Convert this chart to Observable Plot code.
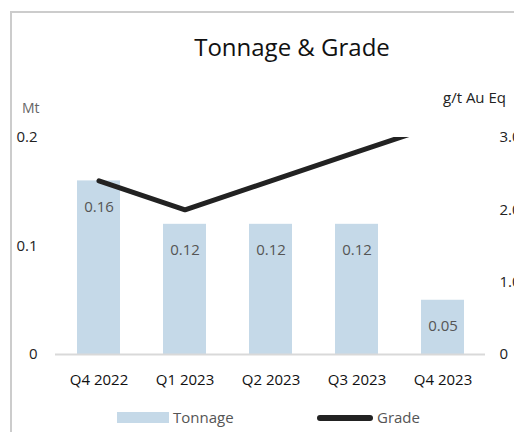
<!DOCTYPE html>
<html>
<head>
<meta charset="utf-8">
<script src="https://cdn.jsdelivr.net/npm/d3@7"></script>
<script src="https://cdn.jsdelivr.net/npm/@observablehq/plot@0.6"></script>
<style>
  html, body { margin: 0; padding: 0; background: #fff; }
  body { width: 514px; height: 432px; overflow: hidden; position: relative; font-family: "Open Sans", sans-serif; }
  .frame { position: absolute; left: 10px; top: 11px; width: 580px; height: 460px; border: 2px solid #cccccc; box-sizing: border-box; }
  .title { position: absolute; left: 0; width: 584px; top: 30px; text-align: center; font-size: 24px; color: #111; line-height: 34px; }
  .lab { position: absolute; white-space: nowrap; line-height: 18px; }
  #chart { position: absolute; left: 0; top: 0; }
  .legend { position: absolute; top: 408px; height: 20px; font-size: 15px; color: #555; }
  .sw { position: absolute; }
</style>
</head>
<body>
<div class="frame"></div>
<div class="title">Tonnage &amp; Grade</div>
<div class="lab" style="left:22px; top:99px; font-size:14px; color:#666;">Mt</div>
<div class="lab" style="left:443px; top:88px; font-size:15px; color:#222;">g/t Au Eq</div>
<div id="chart"></div>
<div class="legend" style="left:0; width:514px;">
  <div class="sw" style="left:117px; top:4px; width:52px; height:11px; background:#c5d9e8;"></div>
  <div class="lab" style="left:173px; top:0px;">Tonnage</div>
  <div class="sw" style="left:317px; top:7px; width:56px; height:6px; border-radius:3px; background:#222;"></div>
  <div class="lab" style="left:377px; top:0px;">Grade</div>
</div>
<script>
const quarters = ["Q4 2022", "Q1 2023", "Q2 2023", "Q3 2023", "Q4 2023"];
const tonnage = [0.16, 0.12, 0.12, 0.12, 0.05];
const grade = [2.4, 2.0, 2.4, 2.8, 3.2];
const tonnageTicks = [0, 0.1, 0.2];
const tonnageTickLabels = ["0", "0.1", "0.2"];
const gradeTicks = [0, 1, 2, 3];
const gradeTickLabels = ["0", "1.0", "2.0", "3.0"];

const tonnageMax = 0.2, gradeMax = 3;
const k = tonnageMax / gradeMax;
const data = quarters.map((q, i) => ({q, t: tonnage[i], g: grade[i]}));

const plot = Plot.plot({
  width: 514,
  height: 432,
  marginLeft: 55,
  marginRight: 29,
  marginTop: 137,
  marginBottom: 78,
  style: {fontFamily: "Open Sans, sans-serif", fontSize: "15px", background: "transparent", overflow: "visible"},
  x: {domain: quarters, paddingInner: 0.5, paddingOuter: 0.25, axis: null},
  y: {domain: [0, tonnageMax], axis: null},
  marks: [
    Plot.barY(data, {x: "q", y: "t", fill: "#c5d9e8"}),
    Plot.ruleY([0], {stroke: "#d9d9d9", strokeWidth: 2}),
    Plot.text(data, {x: "q", y: "t", text: d => d3.format(".2f")(d.t), dy: 26, fill: "#555", fontSize: 15}),
    Plot.line(data, {x: "q", y: d => d.g * k, stroke: "#222", strokeWidth: 5, strokeLinecap: "round", strokeLinejoin: "round", clip: true}),
    Plot.axisX({tickSize: 0, tickPadding: 20, fill: "#111", fontSize: 15, label: null}),
    Plot.axisY(tonnageTicks, {anchor: "left", tickSize: 0, tickPadding: 18, fill: "#222", fontSize: 15, label: null,
      tickFormat: d => tonnageTickLabels[tonnageTicks.indexOf(d)]}),
    Plot.axisY(gradeTicks.map(d => d * k), {anchor: "right", tickSize: 0, tickPadding: 14, textAnchor: "start", fill: "#222", fontSize: 15, label: null,
      tickFormat: d => gradeTickLabels[Math.round(d / k)]})
  ]
});
document.getElementById("chart").appendChild(plot);
</script>
</body>
</html>
